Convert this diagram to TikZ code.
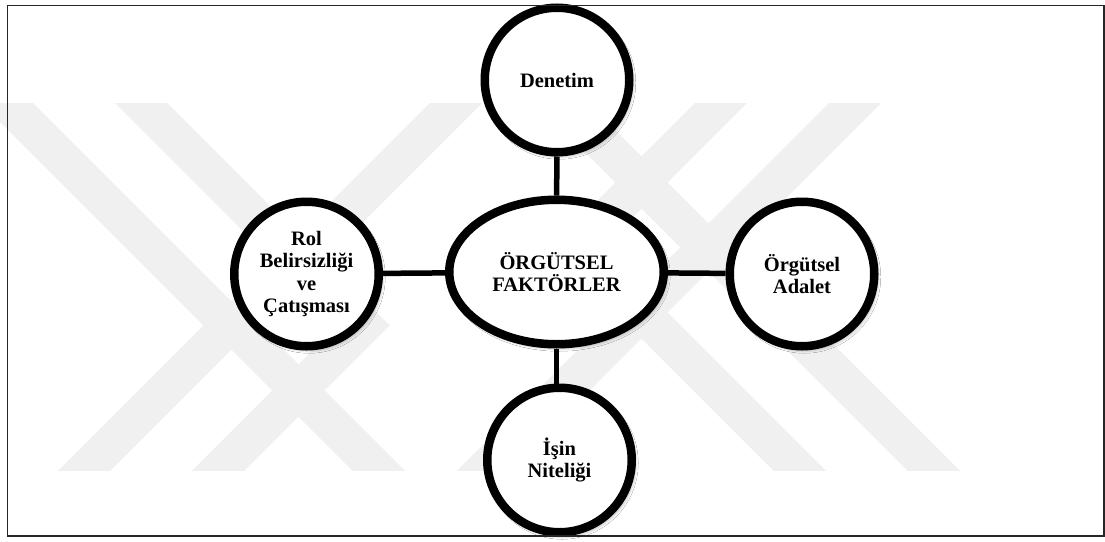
\documentclass[tikz,border=0pt]{standalone}
\usepackage{fontspec}
\setmainfont{Liberation Serif}
\usetikzlibrary{shapes.geometric,shadows.blur}
\newcommand\bubblefont{\bfseries\fontsize{20.5}{22.5}\selectfont}
\begin{document}
\begin{tikzpicture}[x=1pt,y=-1pt,
  wmband/.style={line width=36.8pt, draw=black!6, line join=miter},
  bubble/.style={circle, draw=black, line width=8.5pt, fill=white,
    minimum size=144.5pt, inner sep=0pt, align=center, font=\bubblefont,
    blur shadow={shadow xshift=2.5pt, shadow yshift=-3pt,
      shadow blur radius=4pt, shadow opacity=45}},
  hub/.style={bubble, ellipse, minimum width=214.5pt, minimum height=144.5pt},
  link/.style={line width=5.5pt, draw=black},
  frame/.style={line width=1.5pt, draw=black!85}]

% page and fixed bounding box
\fill[white] (0,0) rectangle (1105,541);
\useasboundingbox (0,0) rectangle (1105,541);

% light grey chevron emblem in the background (point symmetric)
\begin{scope}
  \clip (0,103) rectangle (1105,470);
  \foreach \r in {0,180} {
    \begin{scope}[rotate around={\r:(470,286.5)}]
      \foreach \s in {0,134}
        \draw[wmband] (-93+\s,3) -- (229.5+\s,325.5) -- (-15+\s,570);
      \draw[wmband] (556,3) -- (233.5,325.5) -- (478,570);
    \end{scope}
  }
\end{scope}

% concept bubbles
\node[hub]    (core) at (556.5,272) {ÖRGÜTSEL\\FAKTÖRLER};
\node[bubble] (den)  at (557,80)    {Denetim};
\node[bubble] (rol)  at (306.5,274) {Rol\\Belirsizliği\\ve\\Çatışması};
\node[bubble] (ada)  at (802,274)   {Örgütsel\\Adalet};
\node[bubble] (isin) at (559.5,460) {İşin\\Niteliği};

% spokes from the hub
\draw[link] (den) -- (core);
\draw[link] (rol) -- (core);
\draw[link] (core) -- (ada);
\draw[link] (core.south) -- (core.south |- isin.north);

% outer frame
\draw[frame] (7.5,5.3) rectangle (1104,536);
\end{tikzpicture}
\end{document}
